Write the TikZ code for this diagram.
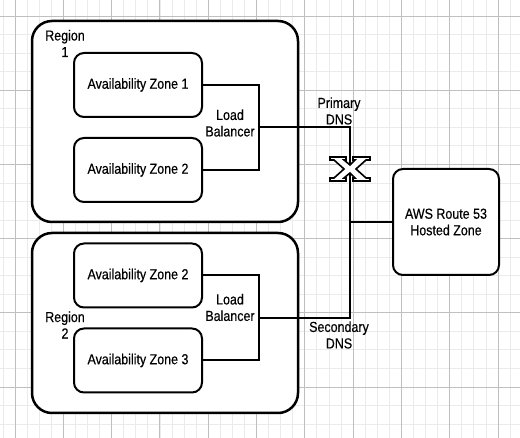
\documentclass[tikz,border=0pt]{standalone}
\usepackage{fontspec}
\setmainfont{Liberation Sans}[FakeStretch=0.86,FakeBold=0.4]

\begin{document}
\begin{tikzpicture}[x=1pt,y=-1pt,
  region/.style={draw,line width=2.5pt,rounded corners=20pt,fill=white,minimum width=266pt},
  zone/.style={draw,line width=2pt,rounded corners=10pt,fill=white,
    minimum width=128pt,minimum height=64pt,font=\fontsize{14.5}{16.5}\selectfont},
  wire/.style={line width=2pt},
  lbl/.style={align=center,inner sep=0pt,font=\fontsize{14.5}{16.5}\selectfont}]
  \useasboundingbox (0,0) rectangle (520,438);
  \fill[white] (0,0) rectangle (520,438);
  \foreach \i in {-1,...,41}
    \draw[gray!16,line width=0.8pt] ({15+12.075*\i},0) -- ({15+12.075*\i},438);
  \foreach \i in {0,...,22}
    \draw[gray!16,line width=0.8pt] (0,{16+18.55*\i}) -- (520,{16+18.55*\i});
  \foreach \i in {0,...,10}
    \draw[gray!50,line width=0.9pt] ({15+48.3*\i},0) -- ({15+48.3*\i},438);
  \foreach \i in {0,...,5}
    \draw[gray!50,line width=0.9pt] (0,{16+74.2*\i}) -- (520,{16+74.2*\i});

  \node[region,minimum height=201pt] (region1) at (165,121.5) {};
  \node[region,minimum height=180pt] (region2) at (165,323) {};
  \node[lbl] (reg1) at (65,43.5) {Region\\1};
  \node[lbl] (reg2) at (65,325) {Region\\2};

  \node[zone] (az1)  at (138,85)    {Availability Zone 1};
  \node[zone] (az2)  at (138,170)   {Availability Zone 2};
  \node[zone] (az2b) at (138,275.5) {Availability Zone 2};
  \node[zone] (az3)  at (138,360.5) {Availability Zone 3};
  \node[zone,minimum width=106pt,minimum height=106pt,align=center] (aws) at (446,222)
    {AWS Route 53\\Hosted Zone};

  \coordinate (lb1) at (259,127.5);
  \coordinate (lb2) at (259,318);
  \coordinate (dns1) at (350,127.5);
  \coordinate (dns2) at (350,318);
  \coordinate (xm) at (350,169);

  \node[lbl] (lbtxt1) at (230,123) {Load\\Balancer};
  \node[lbl] (lbtxt2) at (230,307.5) {Load\\Balancer};
  \node[lbl] (prim) at (339,111) {Primary\\DNS};
  \node[lbl] (sec) at (339,335) {Secondary\\DNS};

  \draw[wire] (az1.east) -| (lb1) |- (az2.east);
  \draw[wire] (az2b.east) -| (lb2) |- (az3.east);
  \draw[wire] (lb1) -- (dns1) -- (dns2) -- (lb2);
  \draw[wire] (aws.west) -- (aws.west -| dns1);

  \draw[shift={(xm)},fill=white,line width=1.6pt,line join=miter]
    (-20,-12) -- (-4,-12) -- (-4,-9) -- (-6,-9) -- (0,-4) -- (5,-9) -- (3,-9)
    -- (3,-12) -- (20,-12) -- (20,-9) -- (16,-9) -- (6,0) -- (16,9) -- (20,9)
    -- (20,12) -- (3,12) -- (3,9) -- (5,9) -- (0,4) -- (-6,9) -- (-4,9)
    -- (-4,12) -- (-20,12) -- (-20,9) -- (-16,9) -- (-6,0) -- (-16,-9)
    -- (-20,-9) -- cycle;
\end{tikzpicture}
\end{document}
